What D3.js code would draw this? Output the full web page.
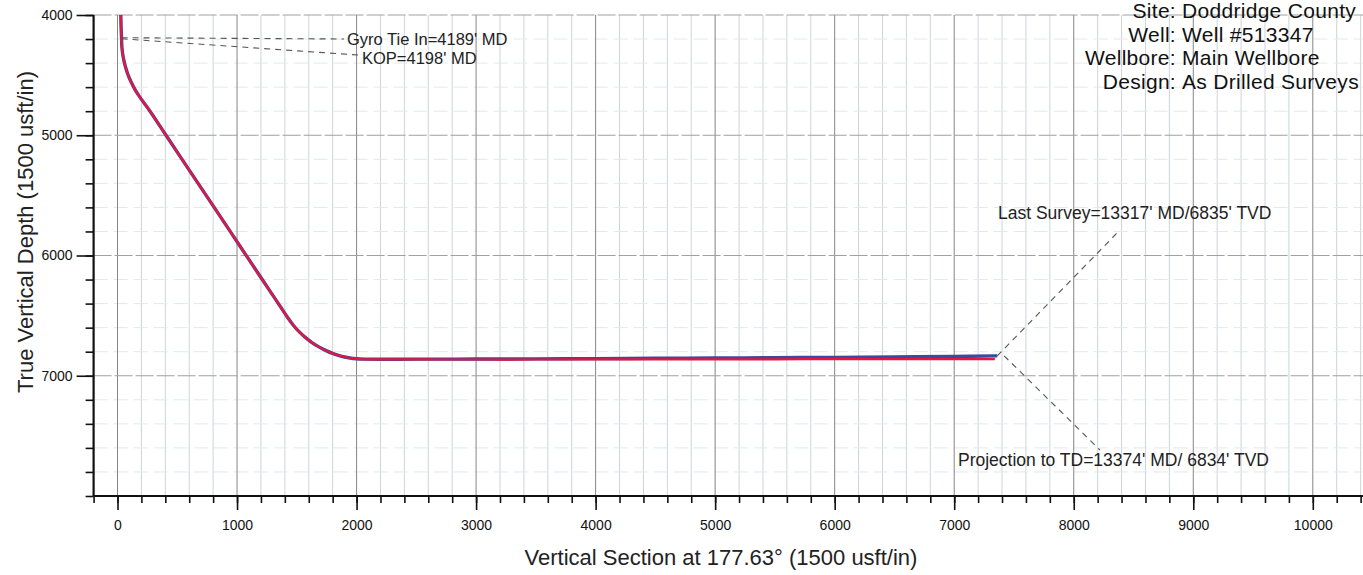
<!DOCTYPE html>
<html>
<head>
<meta charset="utf-8">
<script src="https://cdn.jsdelivr.net/npm/d3@7"></script>
<style>
  body { margin: 0; background: #fff; }
  svg { display: block; font-family: "Liberation Sans", Arial, sans-serif; }
</style>
</head>
<body>
<svg id="chart"></svg>
<script>
// surveyed wellbore (blue) and plan (red): vertical section vs TVD, usft
const surveyVS  = [28, 30, 34, 37, 47, 63, 85, 114, 148, 184, 272, 406, 607, 809, 1010, 1211, 1413, 1426, 1476, 1521, 1571, 1624, 1681, 1741, 1804, 1868, 1934, 2001, 2068,
                   2500, 3000, 3500, 4000, 4500, 5000, 5500, 6000, 6500, 7000, 7360];
const surveyTVD = [4000, 4100, 4198, 4272, 4346, 4418, 4489, 4557, 4623, 4679, 4800, 5000, 5300, 5600, 5900, 6200, 6500, 6520, 6586, 6635, 6681, 6722, 6758, 6789, 6816, 6836, 6850, 6859, 6862,
                   6862, 6861, 6860, 6858, 6855, 6852, 6850, 6847, 6844, 6839, 6835];

const planVS  = [28, 30, 34, 37, 47, 63, 85, 114, 148, 184, 272, 406, 607, 809, 1010, 1211, 1413, 1426, 1476, 1521, 1571, 1624, 1681, 1741, 1804, 1868, 1934, 2001, 2068,
                 2500, 3000, 3500, 4000, 4500, 5000, 5500, 6000, 6500, 7000, 7340];
const planTVD = [4000, 4100, 4198, 4272, 4346, 4418, 4489, 4557, 4623, 4679, 4800, 5000, 5300, 5600, 5900, 6200, 6500, 6520, 6586, 6635, 6681, 6722, 6758, 6789, 6816, 6836, 6850, 6860, 6863,
                 6864, 6865, 6865, 6864, 6864, 6863, 6863, 6862, 6862, 6862, 6862];

const xTickLabels = ["0", "1000", "2000", "3000", "4000", "5000", "6000", "7000", "8000", "9000", "10000"];
const yTickLabels = ["4000", "5000", "6000", "7000"];

const infoLabels = ["Site:", "Well:", "Wellbore:", "Design:"];
const infoValues = ["Doddridge County", "Well #513347", "Main Wellbore", "As Drilled Surveys"];

// annotated stations
const gyroTieIn = { text: "Gyro Tie In=4189' MD", vs: 34, tvd: 4189 };
const kop = { text: "KOP=4198' MD", vs: 34, tvd: 4198 };
const lastSurvey = { text: "Last Survey=13317' MD/6835' TVD", vs: 7360, tvd: 6835 };
const projection = { text: "Projection to TD=13374' MD/ 6834' TVD", vs: 7417, tvd: 6834 };

const width = 1363, height = 575;
const svg = d3.select("#chart").attr("width", width).attr("height", height);

const x = d3.scaleLinear().domain([-200, 10420]).range([93.6, 1363]);
const y = d3.scaleLinear().domain([4000, 8000]).range([15, 496]);

// grid
const grid = svg.append("g");
grid.selectAll(".vminor").data(d3.range(0, 10401, 200).filter(v => v % 1000 !== 0)).join("line")
    .attr("x1", d => x(d)).attr("x2", d => x(d)).attr("y1", y(4000)).attr("y2", y(8000))
    .attr("stroke", "#cdd4da").attr("stroke-width", 1);
grid.selectAll(".hminor").data(d3.range(4200, 8000, 200).filter(v => v % 1000 !== 0)).join("line")
    .attr("x1", x(-200)).attr("x2", width).attr("y1", d => y(d)).attr("y2", d => y(d))
    .attr("stroke", "#e4e7ea").attr("stroke-width", 1).attr("stroke-dasharray", "14,6");
grid.selectAll(".vmajor").data(d3.range(0, 10001, 1000)).join("line")
    .attr("x1", d => x(d)).attr("x2", d => x(d)).attr("y1", y(4000)).attr("y2", y(8000))
    .attr("stroke", "#858585").attr("stroke-width", 1);
grid.selectAll(".hmajor").data(d3.range(4000, 8000, 1000)).join("line")
    .attr("x1", x(-200)).attr("x2", width).attr("y1", d => y(d)).attr("y2", d => y(d))
    .attr("stroke", "#a0a0a0").attr("stroke-width", 1).attr("stroke-dasharray", "18,3");

// axes
const xAxisMinor = d3.axisBottom(x).tickValues(d3.range(-200, 10401, 200)).tickSize(7).tickFormat("");
const xAxisMajor = d3.axisBottom(x).tickValues(d3.range(0, 10001, 1000)).tickSize(14)
    .tickFormat((d, i) => xTickLabels[i]).tickPadding(10);
const yAxisMinor = d3.axisLeft(y).tickValues(d3.range(4000, 8001, 200)).tickSize(8).tickFormat("");
const yAxisMajor = d3.axisLeft(y).tickValues(d3.range(4000, 7001, 1000)).tickSize(17)
    .tickFormat((d, i) => yTickLabels[i]).tickPadding(4);

function styleAxis(g) {
    g.select(".domain").remove();
    g.selectAll(".tick line").attr("stroke", "#111").attr("stroke-width", 1.6);
    g.selectAll(".tick text").attr("fill", "#111").attr("font-size", 14)
        .attr("font-family", "'Liberation Sans', Arial, sans-serif");
}
svg.append("g").attr("transform", `translate(0,${y(8000)})`).call(xAxisMinor).call(styleAxis);
svg.append("g").attr("transform", `translate(0,${y(8000)})`).call(xAxisMajor).call(styleAxis);
svg.append("g").attr("transform", `translate(${x(-200)},0)`).call(yAxisMinor).call(styleAxis);
svg.append("g").attr("transform", `translate(${x(-200)},0)`).call(yAxisMajor).call(styleAxis);

svg.append("line").attr("x1", x(-200)).attr("x2", width).attr("y1", y(8000)).attr("y2", y(8000))
    .attr("stroke", "#111").attr("stroke-width", 2.2);
svg.append("line").attr("x1", x(-200)).attr("x2", x(-200)).attr("y1", y(4000)).attr("y2", y(8000))
    .attr("stroke", "#111").attr("stroke-width", 2.2);

// axis titles
svg.append("text").attr("x", 721).attr("y", 565).attr("text-anchor", "middle")
    .attr("font-size", 22).attr("fill", "#222").text("Vertical Section at 177.63\u00b0 (1500 usft/in)");
svg.append("text").attr("transform", "translate(33,232) rotate(-90)").attr("text-anchor", "middle")
    .attr("font-size", 22).attr("fill", "#222").text("True Vertical Depth (1500 usft/in)");

// wellbore lines
const line = d3.line().x(d => x(d[0])).y(d => y(d[1])).curve(d3.curveCatmullRom);
const survey = surveyVS.map((v, i) => [v, surveyTVD[i]]);
const plan = planVS.map((v, i) => [v, planTVD[i]]);

svg.append("path").attr("d", line(survey)).attr("fill", "none")
    .attr("stroke", "#3b4a9e").attr("stroke-width", 3.4);
svg.append("path").attr("d", line(plan)).attr("fill", "none")
    .attr("stroke", "#e5163f").attr("stroke-width", 2.2);

// annotations
const ann = svg.append("g").attr("font-size", 17.5).attr("fill", "#222");
function leader(from, to) {
    ann.append("line").attr("x1", x(from.vs)).attr("y1", y(from.tvd)).attr("x2", to[0]).attr("y2", to[1])
        .attr("stroke", "#555").attr("stroke-width", 1.1).attr("stroke-dasharray", "6,5");
}
leader(gyroTieIn, [344, 39]);
ann.append("text").attr("x", 347).attr("y", 45).attr("font-size", 16.5).text(gyroTieIn.text);
leader(kop, [358, 55]);
ann.append("text").attr("x", 362).attr("y", 64).attr("font-size", 16.5).text(kop.text);
leader(lastSurvey, [1118, 232]);
ann.append("text").attr("x", 998).attr("y", 219).text(lastSurvey.text);
leader(projection, [1100, 450]);
ann.append("text").attr("x", 958).attr("y", 466).text(projection.text);

// well info block
const info = svg.append("g").attr("font-size", 21).attr("fill", "#111").attr("letter-spacing", 0.3);
info.selectAll(".lab").data(infoLabels).join("text")
    .attr("x", 1176).attr("y", (d, i) => 18 + i * 23.6).attr("text-anchor", "end").text(d => d);
info.selectAll(".val").data(infoValues).join("text")
    .attr("x", 1182).attr("y", (d, i) => 18 + i * 23.6).text(d => d);
</script>
</body>
</html>
